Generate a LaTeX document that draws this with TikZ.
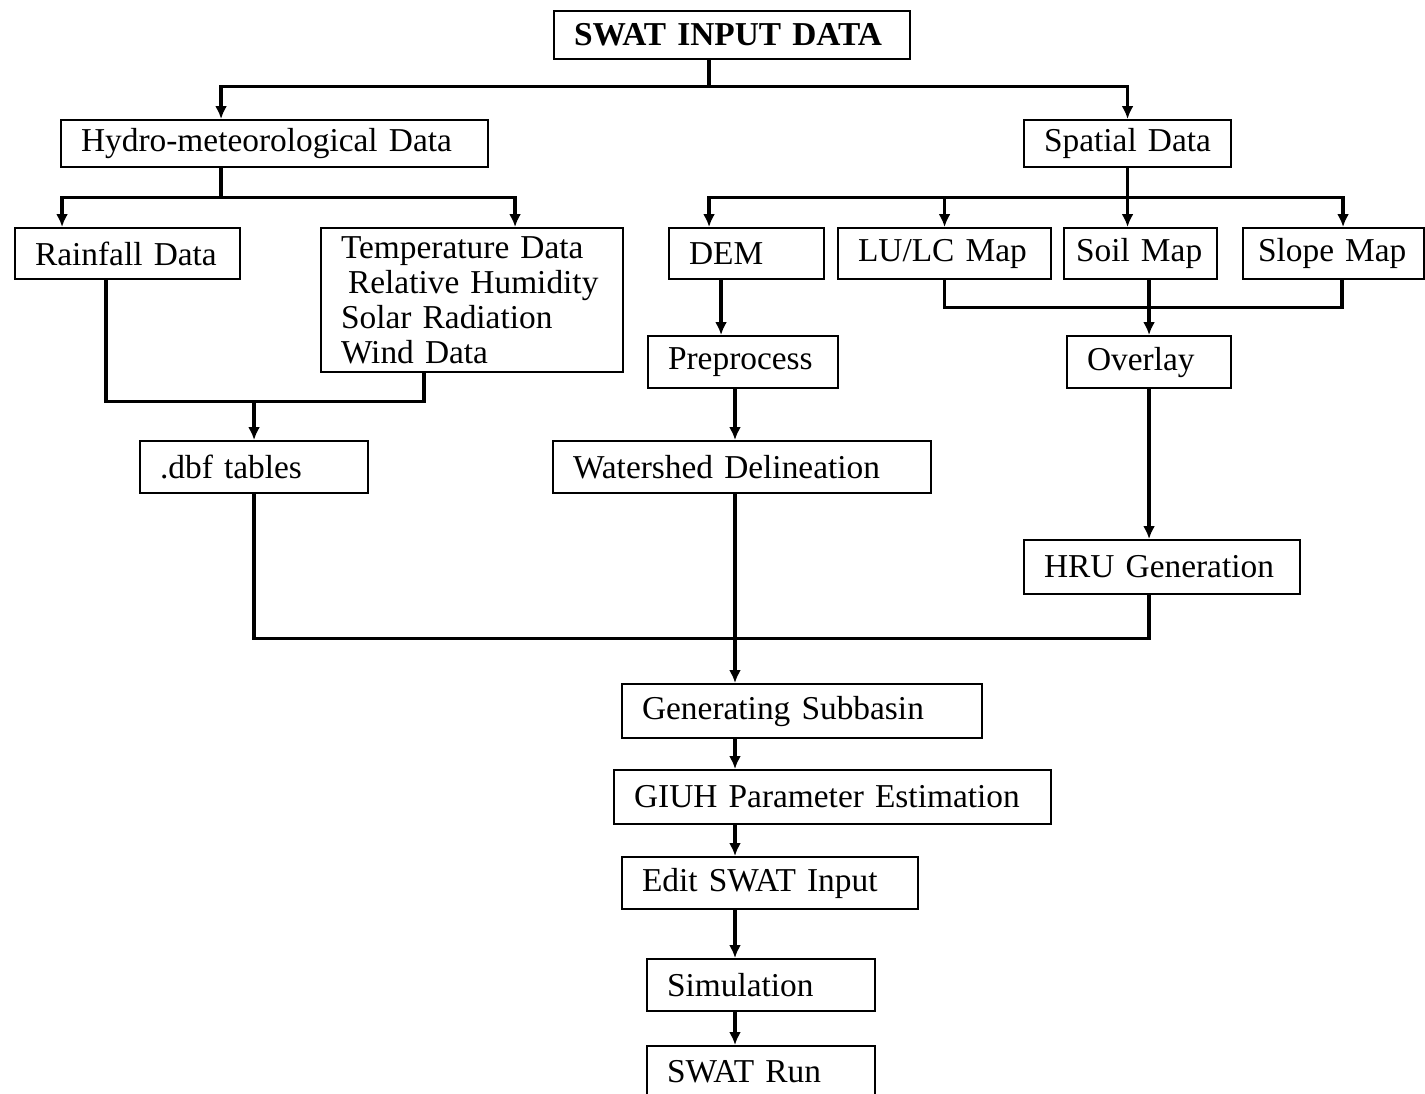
\documentclass[tikz,border=0pt]{standalone}
\usepackage{fontspec}
\setmainfont[WordSpace=0.6]{Liberation Serif}
\usetikzlibrary{arrows.meta}

\begin{document}
\begin{tikzpicture}[
  box/.style={
    draw,
    line width=0.6pt,
    anchor=north west,
    inner xsep=0.2cm,
    inner ysep=0pt,
    align=left,
    font=\fontsize{9.5}{10}\selectfont
  },
  wire/.style={line width=0.9pt},
  arrow/.style={-{Latex[length=1.3mm,width=1.2mm]},line width=0.9pt}
]
  \useasboundingbox (0,0) rectangle (14.25,-10.93);
  \fill[white] (0,0) rectangle (14.25,-10.93);

  % boxes
  \node[box,text width=3.16cm,minimum height=0.48cm,
    font=\fontsize{9.5}{10}\selectfont\bfseries] (swat) at (5.53,-0.10) {SWAT INPUT DATA};
  \node[box,text width=3.87cm,minimum height=0.47cm] (hydro) at (0.60,-1.19) {Hydro-meteorological Data};
  \node[box,text width=1.67cm,minimum height=0.47cm] (spatial) at (10.23,-1.19) {Spatial Data};

  \node[box,text width=1.85cm,minimum height=0.51cm] (rain) at (0.14,-2.27) {Rainfall Data};
  \node[box,text width=2.62cm,minimum height=1.44cm] (temp) at (3.20,-2.27)
    {Temperature Data\\\hspace{0.07cm}Relative Humidity\\Solar Radiation\\Wind Data};
  \node[box,text width=1.15cm,minimum height=0.51cm] (dem) at (6.68,-2.27) {DEM};
  \node[box,text width=1.73cm,minimum height=0.51cm] (lulc) at (8.37,-2.27) {LU/LC Map};
  \node[box,inner xsep=0.12cm,text width=1.29cm,minimum height=0.51cm] (soil) at (10.63,-2.27) {Soil Map};
  \node[box,inner xsep=0.15cm,text width=1.51cm,minimum height=0.51cm] (slope) at (12.42,-2.27) {Slope Map};

  \node[box,text width=1.50cm,minimum height=0.52cm] (prep) at (6.47,-3.35) {Preprocess};
  \node[box,text width=1.24cm,minimum height=0.52cm] (overlay) at (10.66,-3.35) {Overlay};

  \node[box,text width=1.88cm,minimum height=0.52cm] (dbf) at (1.39,-4.40) {.dbf tables};
  \node[box,text width=3.38cm,minimum height=0.52cm] (wshed) at (5.52,-4.40) {Watershed Delineation};
  \node[box,text width=2.36cm,minimum height=0.54cm] (hru) at (10.23,-5.39) {HRU Generation};

  \node[box,text width=3.20cm,minimum height=0.54cm] (gen) at (6.21,-6.83) {Generating Subbasin};
  \node[box,text width=3.97cm,minimum height=0.54cm] (giuh) at (6.13,-7.69) {GIUH Parameter Estimation};
  \node[box,text width=2.56cm,minimum height=0.52cm] (edit) at (6.21,-8.56) {Edit SWAT Input};
  \node[box,text width=1.88cm,minimum height=0.52cm] (sim) at (6.46,-9.58) {Simulation};
  \node[box,text width=1.88cm,minimum height=0.52cm] (run) at (6.46,-10.45) {SWAT Run};

  \coordinate (spine) at (7.35,0);

  % input split
  \draw[wire] ([xshift=-2.3mm]swat.south) -- ++(0,-0.26) coordinate (top);
  \draw[arrow] (top) -| ([xshift=-5.35mm]hydro.north);
  \draw[arrow] (top) -| (spatial.north);

  % hydro-met split
  \draw[wire] ([xshift=-5.35mm]hydro.south) -- ++(0,-0.29) coordinate (met);
  \draw[arrow] (met) -| ([xshift=-6.55mm]rain.north);
  \draw[arrow] (met) -| ([xshift=4.3mm]temp.north);

  % spatial split
  \draw[wire] (spatial.south) -- ++(0,-0.29) coordinate (spa);
  \draw[arrow] (spa) -| ([xshift=-3.75mm]dem.north);
  \draw[arrow] (spa) -| (lulc.north);
  \draw[arrow] (spa) -- (spa |- soil.north);
  \draw[arrow] (spa) -| ([xshift=0.95mm]slope.north);

  % maps to overlay
  \draw[wire] (lulc.south) -- ++(0,-0.27) -| ([xshift=0.85mm]slope.south);
  \draw[arrow] (overlay.north |- soil.south) -- (overlay.north);
  \draw[arrow] (overlay.south) -- (overlay.south |- hru.north);

  % dem chain
  \draw[arrow] ([xshift=-2.55mm]dem.south) -- ([xshift=-2.55mm]dem.south |- prep.north);
  \draw[arrow] (prep.south -| spine) -- (wshed.north -| spine);

  % met data to tables
  \draw[wire] ([xshift=-2.15mm]rain.south) -- ++(0,-1.21) coordinate (mrg)
    -| ([xshift=-4.8mm]temp.south);
  \draw[arrow] (mrg -| dbf.north) -- (dbf.north);

  % into subbasin
  \draw[wire] (dbf.south) -- ++(0,-1.44) -| (overlay.south |- hru.south);
  \draw[arrow] (wshed.south -| spine) -- (gen.north -| spine);
  \foreach \a/\b in {gen/giuh,giuh/edit,edit/sim,sim/run}
    \draw[arrow] (\a.south -| spine) -- (\b.north -| spine);
\end{tikzpicture}
\end{document}
